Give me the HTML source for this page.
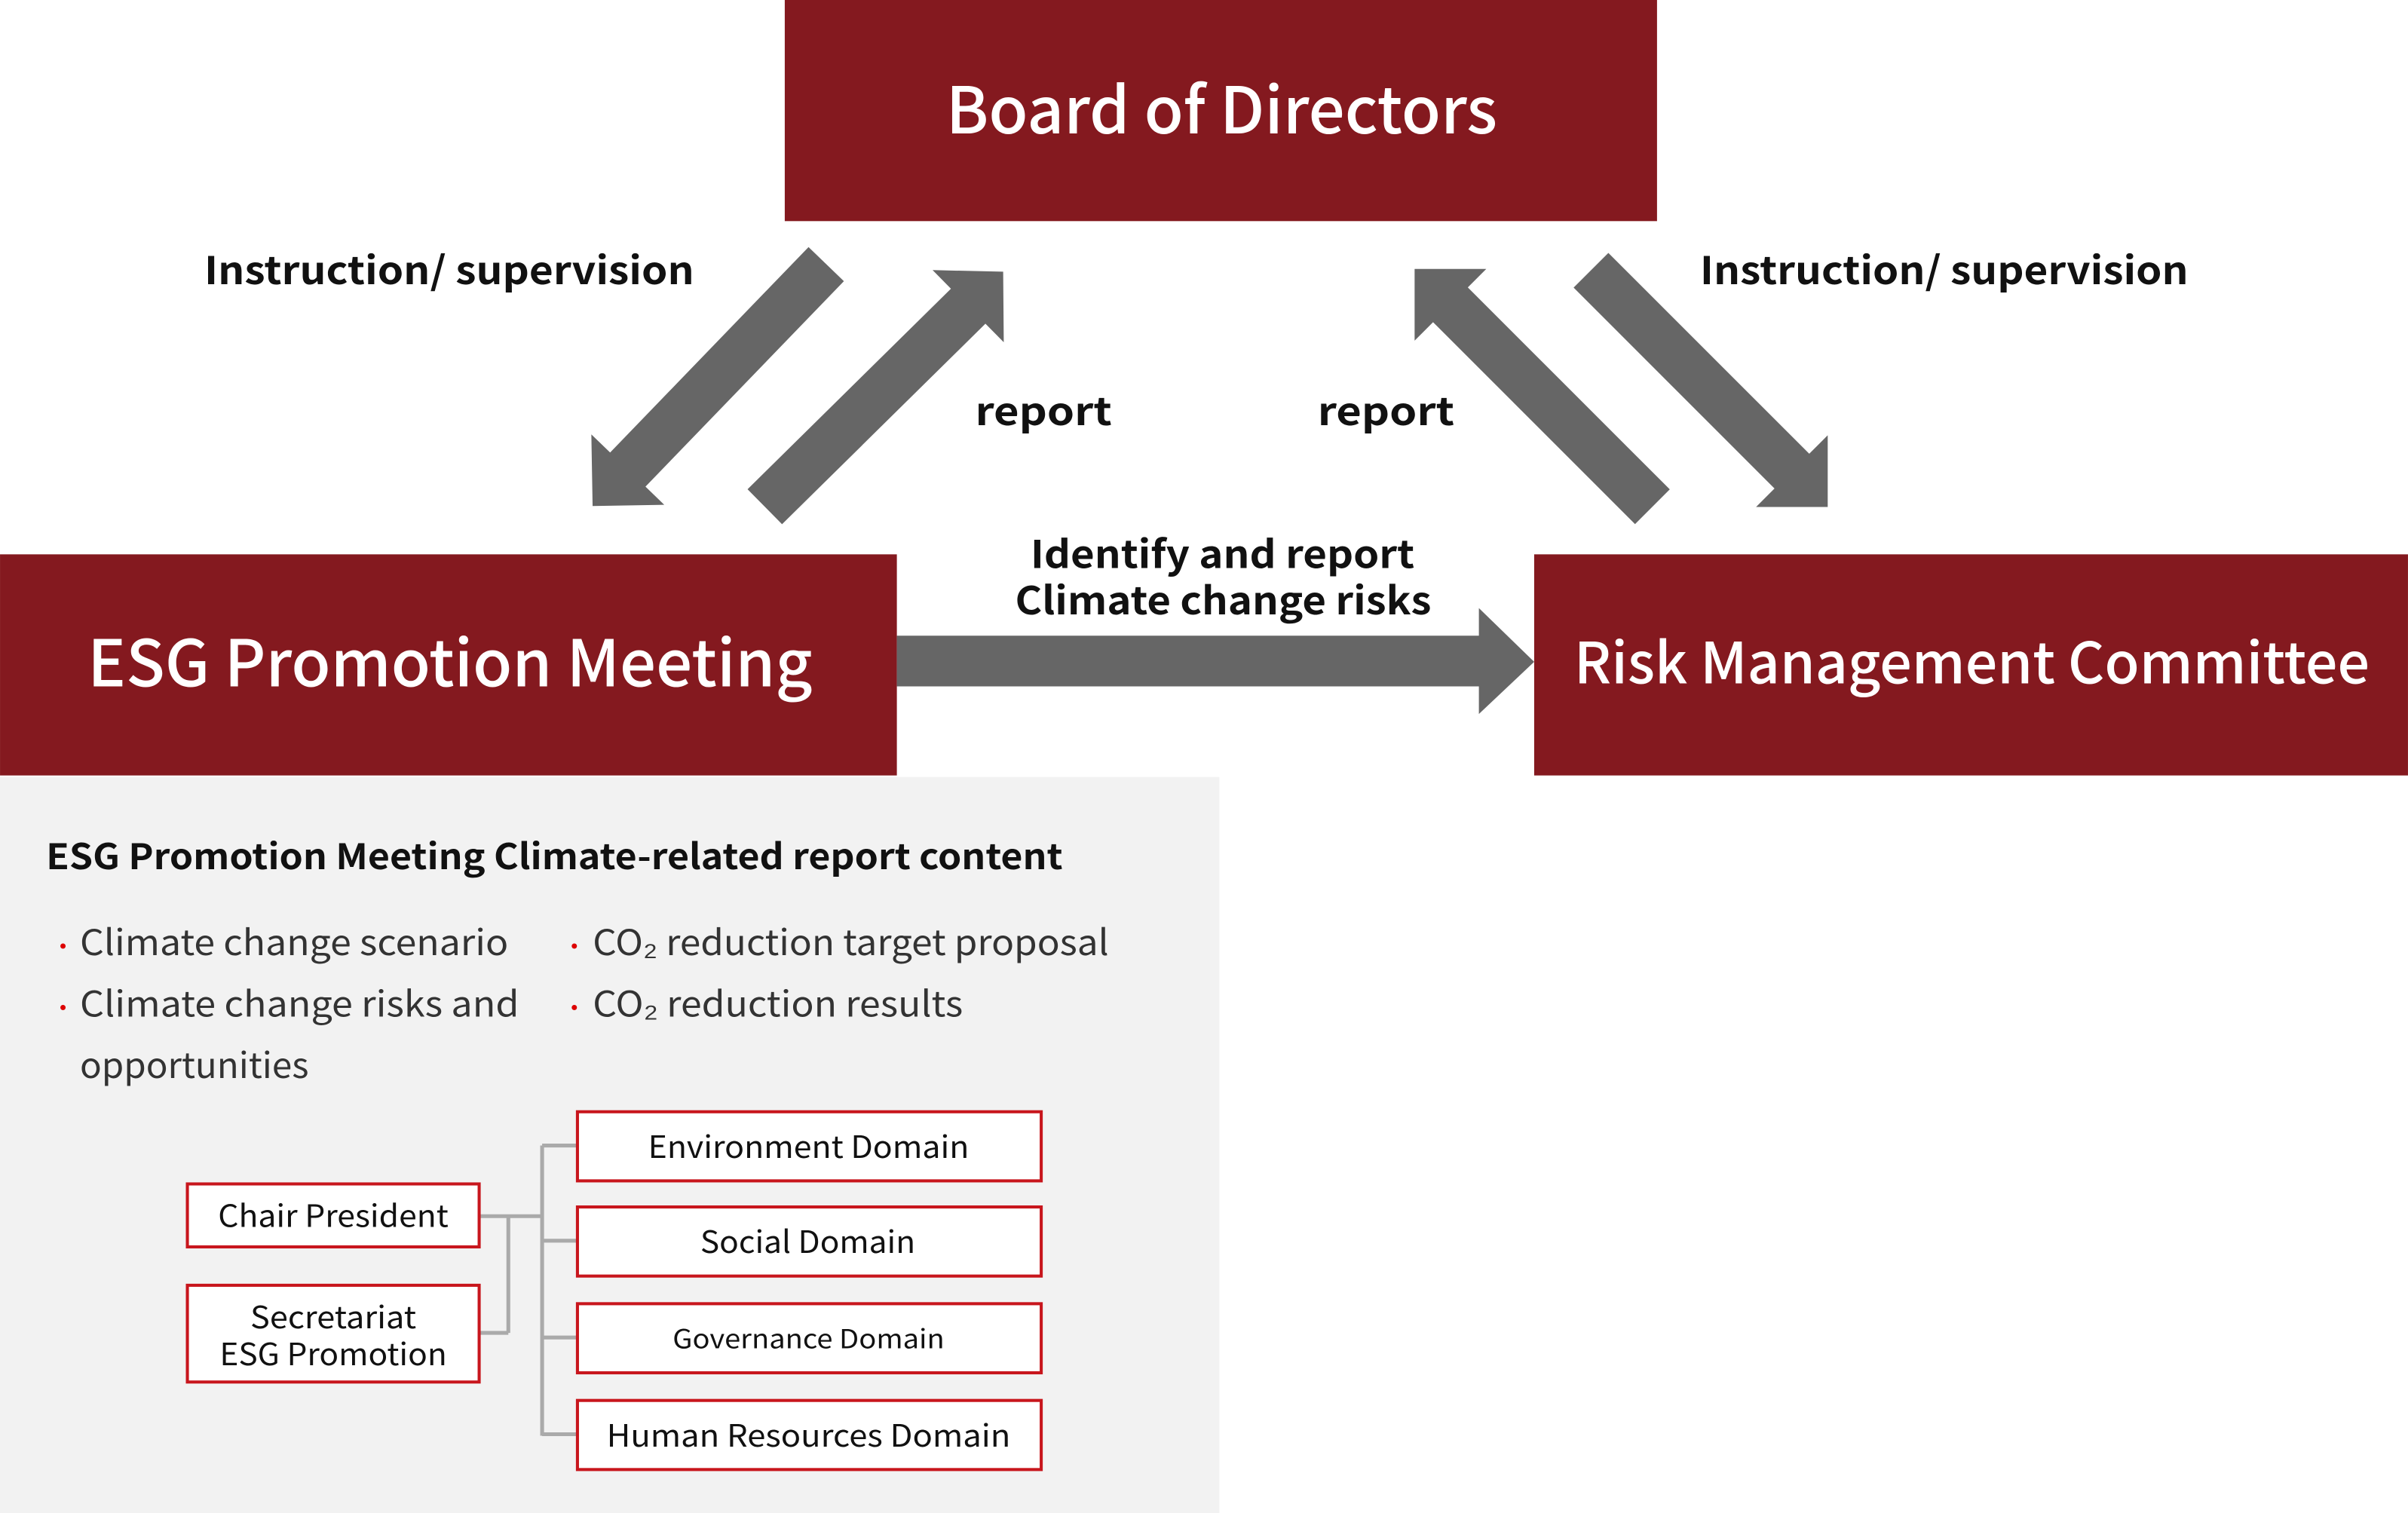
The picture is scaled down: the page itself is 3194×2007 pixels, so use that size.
<!DOCTYPE html>
<html><head><meta charset="utf-8"><style>
html,body{margin:0;padding:0;background:#fff;}
svg{display:block;}
text{font-family:"Noto Sans CJK JP","Liberation Sans",sans-serif;}
</style></head><body>
<svg width="3194" height="2007" viewBox="0 0 1568 985.3" xmlns="http://www.w3.org/2000/svg">
<rect x="0" y="0" width="1568" height="985.3" fill="#fff"/>
<rect x="0" y="506" width="794" height="480" fill="#f2f2f2"/>
<rect x="511" y="0" width="568" height="144" fill="#84191f"/>
<rect x="0" y="361" width="584" height="144" fill="#84191f"/>
<rect x="999" y="361" width="569" height="144" fill="#84191f"/>
<text x="616" y="87" font-size="42" font-weight="500" fill="#fff" textLength="359" lengthAdjust="spacingAndGlyphs">Board of Directors</text>
<text x="57" y="447" font-size="42" font-weight="500" fill="#fff" textLength="472" lengthAdjust="spacingAndGlyphs">ESG Promotion Meeting</text>
<text x="1025" y="445" font-size="37" font-weight="500" fill="#fff" textLength="518" lengthAdjust="spacingAndGlyphs">Risk Management Committee</text>
<g fill="#666">
<g transform="translate(538,172) rotate(134)"><polygon points="0,-16 186,-16 186,-33 219,0 186,33 186,16 0,16"/></g>
<g transform="translate(498,330) rotate(-44.6)"><polygon points="0,-16 186,-16 186,-33 218,0 186,33 186,16 0,16"/></g>
<g transform="translate(1076,330) rotate(-135)"><polygon points="0,-16 186,-16 186,-33 219,0 186,33 186,16 0,16"/></g>
<g transform="translate(1036,176) rotate(45)"><polygon points="0,-16 185,-16 185,-33 218,0 185,33 185,16 0,16"/></g>
<polygon points="584,414 963,414 963,396 999,431 963,465 963,447 584,447"/>
</g>
<g font-size="25" font-weight="700" fill="#111">
<text x="133" y="185" textLength="319" lengthAdjust="spacingAndGlyphs">Instruction/ supervision</text>
<text x="1107" y="185" textLength="318" lengthAdjust="spacingAndGlyphs">Instruction/ supervision</text>
<text x="635" y="277" textLength="89" lengthAdjust="spacingAndGlyphs">report</text>
<text x="858" y="277" textLength="89" lengthAdjust="spacingAndGlyphs">report</text>
<text x="671" y="370" textLength="250" lengthAdjust="spacingAndGlyphs">Identify and report</text>
<text x="661" y="400" textLength="271" lengthAdjust="spacingAndGlyphs">Climate change risks</text>
</g>
<text x="30" y="566" font-size="23" font-weight="700" fill="#111" textLength="662" lengthAdjust="spacingAndGlyphs">ESG Promotion Meeting Climate-related report content</text>
<g font-size="23" fill="#333">
<text x="33" y="622" fill="#d00" font-size="16">・</text>
<text x="52" y="622" textLength="279" lengthAdjust="spacingAndGlyphs">Climate change scenario</text>
<text x="33" y="662" fill="#d00" font-size="16">・</text>
<text x="52" y="662" textLength="286" lengthAdjust="spacingAndGlyphs">Climate change risks and</text>
<text x="52" y="702" textLength="149" lengthAdjust="spacingAndGlyphs">opportunities</text>
<text x="366" y="622" fill="#d00" font-size="16">・</text>
<text x="386" y="622" textLength="336" lengthAdjust="spacingAndGlyphs">CO₂ reduction target proposal</text>
<text x="366" y="662" fill="#d00" font-size="16">・</text>
<text x="386" y="662" textLength="241" lengthAdjust="spacingAndGlyphs">CO₂ reduction results</text>
</g>
<g stroke="#aaa" stroke-width="2.5" fill="none">
<line x1="312" y1="792" x2="353" y2="792"/>
<line x1="353" y1="746" x2="353" y2="935"/>
<line x1="353" y1="746" x2="376" y2="746"/>
<line x1="353" y1="808" x2="376" y2="808"/>
<line x1="353" y1="871" x2="376" y2="871"/>
<line x1="353" y1="934" x2="376" y2="934"/>
<line x1="312" y1="868" x2="331" y2="868"/>
<line x1="331" y1="792" x2="331" y2="868"/>
</g>
<g fill="#fff" stroke="#c8161d" stroke-width="2">
<rect x="122" y="771" width="190" height="41"/>
<rect x="122" y="837" width="190" height="63"/>
<rect x="376" y="724" width="302" height="45"/>
<rect x="376" y="786" width="302" height="45"/>
<rect x="376" y="849" width="302" height="45"/>
<rect x="376" y="912" width="302" height="45"/>
</g>
<g font-size="20" fill="#111">
<text x="142" y="799" textLength="150" lengthAdjust="spacingAndGlyphs">Chair President</text>
<text x="163" y="865" textLength="108" lengthAdjust="spacingAndGlyphs">Secretariat</text>
<text x="143" y="889" textLength="148" lengthAdjust="spacingAndGlyphs">ESG Promotion</text>
<text x="422" y="754" textLength="209" lengthAdjust="spacingAndGlyphs">Environment Domain</text>
<text x="456" y="816" textLength="140" lengthAdjust="spacingAndGlyphs">Social Domain</text>
<text x="438" y="878" font-size="17" textLength="177" lengthAdjust="spacingAndGlyphs">Governance Domain</text>
<text x="395" y="942" textLength="263" lengthAdjust="spacingAndGlyphs">Human Resources Domain</text>
</g>
</svg>
</body></html>
